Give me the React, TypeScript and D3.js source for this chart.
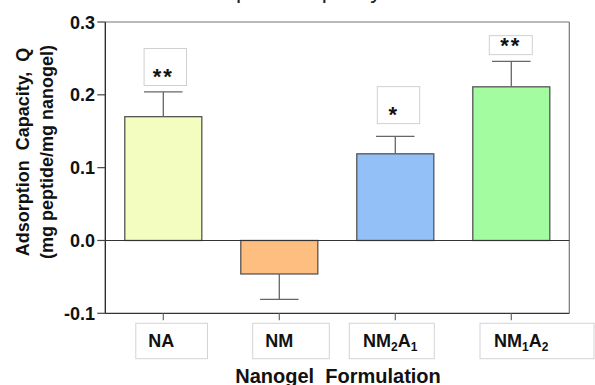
import React from "react";
import * as d3 from "d3";

const categories = ["NA", "NM", "NM2A1", "NM1A2"];
const means = [0.170, -0.046, 0.119, 0.211];
const errors = [0.034, 0.035, 0.024, 0.035];
const stars = ["**", "", "*", "**"];
const yTicks = [-0.1, 0.0, 0.1, 0.2, 0.3];
const colors = ["#F3FDC0", "#FDBE80", "#93C0F7", "#A3FDA0"];

// layout (pixels), separate from data
const W = 595, H = 385;
const plot = { left: 105.3, right: 569.3, top: 22, bottom: 313.3 };
const labelBox = [
  { dx: -27.5, w: 71.7 },
  { dx: -26.6, w: 76.6 },
  { dx: -46, w: 85 },
  { dx: -31.3, w: 114 },
];
const labelNudge = [-2, 0, -5, 10];
const starBox = [
  { dx: -19.2, w: 42.4, h: 37, gap: 6.4 },
  null,
  { dx: -18, w: 42.4, h: 37, gap: 12.7 },
  { dx: -22, w: 43, h: 19, gap: 6.7 },
];
const starNudge = [0, 0, -1.5, -0.5];

const FONT = "'Liberation Sans', Arial, Helvetica, sans-serif";
const fmt = (t: number) => d3.format(".1f")(t).replace("\u2212", "-");

function Label({ name }: { name: string }) {
  if (name === "NM2A1" || name === "NM1A2") {
    const a = name[2];
    const b = name[4];
    return (
      <>
        <tspan>NM</tspan>
        <tspan fontSize={12} dy={4}>{a}</tspan>
        <tspan dy={-4}>A</tspan>
        <tspan fontSize={12} dy={4}>{b}</tspan>
      </>
    );
  }
  return <tspan>{name}</tspan>;
}

export default function App() {
  const x = d3
    .scaleBand<string>()
    .domain(categories)
    .range([plot.left, plot.right])
    .paddingInner(0.336)
    .paddingOuter(0.168);
  const y = d3.scaleLinear().domain([-0.1, 0.3]).range([plot.bottom, plot.top]);
  const bw = x.bandwidth();
  const y0 = y(0);

  return (
    <svg
      width={W}
      height={H}
      style={{ position: "absolute", left: 0, top: 0, background: "#fff" }}
      fontFamily={FONT}
    >
      <rect x={0} y={0} width={W} height={H} fill="#fff" />
      {/* title, cut off at the top edge as in the reference */}
      <text x={176} y={-2} fontSize={23} fill="#222">
        Adsorption Capacity
      </text>

      {/* frame */}
      <line x1={plot.left} x2={plot.right} y1={plot.top} y2={plot.top} stroke="#777" strokeWidth={1.2} />
      <line x1={plot.right} x2={plot.right} y1={plot.top} y2={plot.bottom} stroke="#777" strokeWidth={1.2} />
      <line x1={plot.left} x2={plot.right} y1={plot.bottom} y2={plot.bottom} stroke="#333" strokeWidth={1.2} />

      {/* bars */}
      {categories.map((c, i) => {
        const v = means[i];
        const top = y(Math.max(0, v));
        const bot = y(Math.min(0, v));
        return (
          <rect
            key={c}
            x={x(c)!}
            y={top}
            width={bw}
            height={bot - top}
            fill={colors[i]}
            stroke="#555"
            strokeWidth={1.3}
          />
        );
      })}

      {/* zero line */}
      <line x1={plot.left} x2={plot.right} y1={y0} y2={y0} stroke="#333" strokeWidth={1.2} />

      {/* error bars */}
      {categories.map((c, i) => {
        const cx = x(c)! + bw / 2;
        const v = means[i];
        const end = v >= 0 ? v + errors[i] : v - errors[i];
        const half = bw / 4;
        return (
          <g key={c} stroke="#666" strokeWidth={1.3}>
            <line x1={cx} x2={cx} y1={y(v)} y2={y(end)} />
            <line x1={cx - half} x2={cx + half} y1={y(end)} y2={y(end)} />
          </g>
        );
      })}

      {/* significance boxes */}
      {categories.map((c, i) => {
        const sb = starBox[i];
        if (!sb) return null;
        const cx = x(c)! + bw / 2;
        const bottom = y(means[i] + errors[i]) - sb.gap;
        return (
          <g key={c}>
            <rect x={cx + sb.dx} y={bottom - sb.h} width={sb.w} height={sb.h} fill="#fff" stroke="#d0d0d0" strokeWidth={1} />
            <text
              x={cx + starNudge[i]}
              y={bottom - 2}
              textAnchor="middle"
              fontSize={22}
              fontWeight="bold"
              letterSpacing={2}
              fill="#111"
            >
              {stars[i]}
            </text>
          </g>
        );
      })}

      {/* y axis */}
      <line x1={plot.left} x2={plot.left} y1={plot.top} y2={plot.bottom} stroke="#222" strokeWidth={1.3} />
      {yTicks.map((t) => (
        <g key={t}>
          <line x1={plot.left - 8} x2={plot.left} y1={y(t)} y2={y(t)} stroke="#444" strokeWidth={1.2} />
          <text x={95} y={y(t) + 6.5} textAnchor="end" fontSize={18} fontWeight="bold" fill="#111">
            {fmt(t)}
          </text>
        </g>
      ))}

      {/* x ticks and labels */}
      {categories.map((c, i) => {
        const cx = x(c)! + bw / 2;
        const lb = labelBox[i];
        return (
          <g key={c}>
            <line x1={cx} x2={cx} y1={plot.bottom} y2={plot.bottom + 7} stroke="#666" strokeWidth={1.2} />
            <rect x={cx + lb.dx} y={323.3} width={lb.w} height={35.4} fill="#fff" stroke="#d4d4d4" strokeWidth={1} />
            <text x={cx + labelNudge[i]} y={346.7} textAnchor="middle" fontSize={18} fontWeight="bold" fill="#111">
              <Label name={c} />
            </text>
          </g>
        );
      })}

      {/* axis titles */}
      <text x={338} y={382.5} textAnchor="middle" fontSize={20} fontWeight="bold" fill="#111" style={{ whiteSpace: "pre" }}>
        {"Nanogel  Formulation"}
      </text>
      <g transform="translate(28.5,152) rotate(-90)">
        <text x={0} y={0} textAnchor="middle" fontSize={18} fontWeight="bold" fill="#111" style={{ whiteSpace: "pre" }}>
          {"Adsorption  Capacity,  Q"}
        </text>
        <text x={0} y={24} textAnchor="middle" fontSize={18} fontWeight="bold" fill="#111">
          (mg peptide/mg nanogel)
        </text>
      </g>
    </svg>
  );
}
